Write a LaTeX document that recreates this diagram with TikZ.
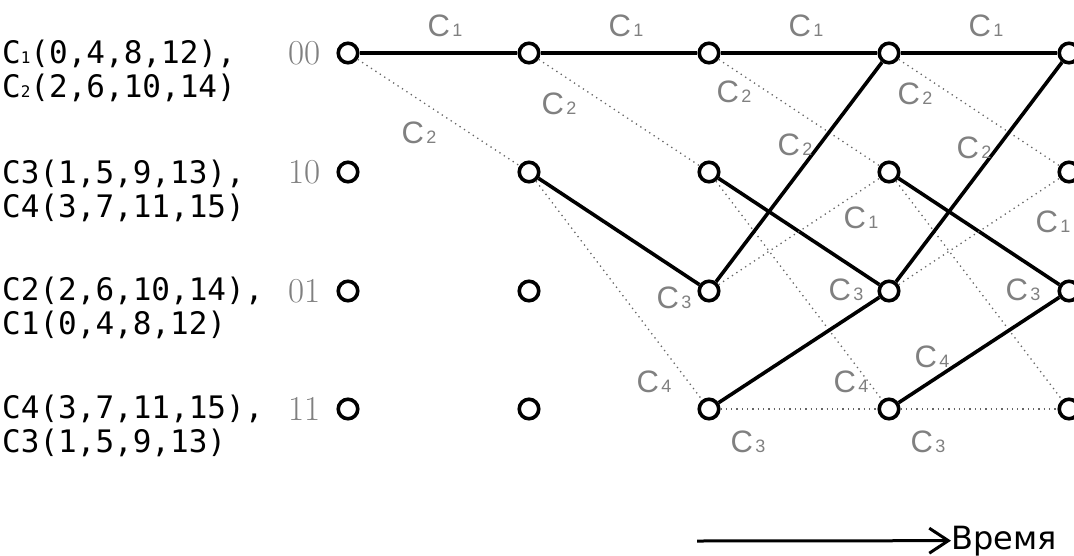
\documentclass[tikz,border=0pt]{standalone}
\usepackage{fontspec}
\usepackage{tikz}
\usetikzlibrary{arrows.meta}
\newfontfamily\labfont{Liberation Sans}
\newfontfamily\codefont{DejaVu Sans Mono}
\newfontfamily\timefont{DejaVu Sans}
\definecolor{labgray}{gray}{0.5}
\definecolor{dotgray}{gray}{0.4}
\newcommand{\cl}[1]{C\kern2.5pt{\fontsize{18}{18}\selectfont #1}}
\newcommand{\sub}[1]{{\fontsize{16}{16}\selectfont #1}}

\begin{document}
\begin{tikzpicture}[x=1pt, y=-1pt,
    st/.style={draw, circle, line width=3.6pt, minimum size=19.5pt, inner sep=0pt, fill=white},
    tag/.style={text=labgray, font=\labfont\fontsize{31}{31}\selectfont, inner sep=0pt},
    num/.style={text=labgray, font=\fontsize{35}{35}\selectfont, inner sep=0pt, anchor=east},
    code/.style={font=\codefont\fontsize{31}{34}\selectfont, align=left, anchor=west, inner sep=0pt},
    sol/.style={line width=3.6pt},
    dot/.style={dotgray, line width=1.3pt, dash pattern=on 1.3pt off 4pt},
    arr/.style={line width=3pt, -{Straight Barb[length=19pt, width=25pt, line width=3pt]}}
]
\useasboundingbox (0,0) rectangle (1074,555);

% code words of each state
\node[code] (k00) at (2,71) {C\sub{1}(0,4,8,12),\\C\sub{2}(2,6,10,14)};
\node[code] (k10) at (2,191) {C3(1,5,9,13),\\C4(3,7,11,15)};
\node[code] (k01) at (2,308) {C2(2,6,10,14),\\C1(0,4,8,12)};
\node[code] (k11) at (2,426) {C4(3,7,11,15),\\C3(1,5,9,13)};

\node[num] (s00) at (321,53) {00};
\node[num] (s10) at (321,172) {10};
\node[num] (s01) at (321,291) {01};
\node[num] (s11) at (321,409) {11};

% trellis states
\node[st] (a00) at (348,53) {};
\node[st] (a10) at (348,172) {};
\node[st] (a01) at (348,291) {};
\node[st] (a11) at (348,409) {};
\node[st] (b00) at (529,53) {};
\node[st] (b10) at (529,172) {};
\node[st] (b01) at (529,291) {};
\node[st] (b11) at (529,409) {};
\node[st] (c00) at (709,53) {};
\node[st] (c10) at (709,172) {};
\node[st] (c01) at (709,291) {};
\node[st] (c11) at (709,409) {};
\node[st] (d00) at (889,53) {};
\node[st] (d10) at (889,172) {};
\node[st] (d01) at (889,291) {};
\node[st] (d11) at (889,409) {};
\node[st] (e00) at (1069,53) {};
\node[st] (e10) at (1069,172) {};
\node[st] (e01) at (1069,291) {};
\node[st] (e11) at (1069,409) {};

% transitions
\draw[sol] (a00) -- (b00);
\draw[dot] (a00) -- (b10);

\draw[sol] (b00) -- (c00);
\draw[dot] (b00) -- (c10);
\draw[sol] (b10) -- (c01);
\draw[dot] (b10) -- (c11);

\draw[sol] (c00) -- (d00);
\draw[dot] (c00) -- (d10);
\draw[sol] (c10) -- (d01);
\draw[dot] (c10) -- (d11);
\draw[sol] (c01) -- (d00);
\draw[dot] (c01) -- (d10);
\draw[sol] (c11) -- (d01);
\draw[dot] (c11) -- (d11);

\draw[sol] (d00) -- (e00);
\draw[dot] (d00) -- (e10);
\draw[sol] (d10) -- (e01);
\draw[dot] (d10) -- (e11);
\draw[sol] (d01) -- (e00);
\draw[dot] (d01) -- (e10);
\draw[sol] (d11) -- (e01);
\draw[dot] (d11) -- (e11);

% signal labels
\node[tag] (l1) at (445,26) {\cl{1}};
\node[tag] (l2) at (626,26) {\cl{1}};
\node[tag] (l3) at (806,26) {\cl{1}};
\node[tag] (l4) at (986,26) {\cl{1}};
\node[tag] (l5) at (419,133) {\cl{2}};
\node[tag] (l6) at (559,104) {\cl{2}};
\node[tag] (l7) at (734,92) {\cl{2}};
\node[tag] (l8) at (915,94) {\cl{2}};
\node[tag] (l9) at (795,145) {\cl{2}};
\node[tag] (l10) at (974,148) {\cl{2}};
\node[tag] (l11) at (861,218) {\cl{1}};
\node[tag] (l12) at (1053,222) {\cl{1}};
\node[tag] (l13) at (674,298) {\cl{3}};
\node[tag] (l14) at (846,290) {\cl{3}};
\node[tag] (l15) at (1023,290) {\cl{3}};
\node[tag] (l16) at (748,442) {\cl{3}};
\node[tag] (l17) at (928,442) {\cl{3}};
\node[tag] (l18) at (654,382) {\cl{4}};
\node[tag] (l19) at (851,382) {\cl{4}};
\node[tag] (l20) at (932,357) {\cl{4}};

% time axis
\coordinate (t0) at (697,541);
\node[font=\timefont\fontsize{32}{32}\selectfont, inner sep=0pt, anchor=base west] (tm) at (951,549) {Время};
\draw[arr] (t0) -- (tm.west);
\end{tikzpicture}
\end{document}
